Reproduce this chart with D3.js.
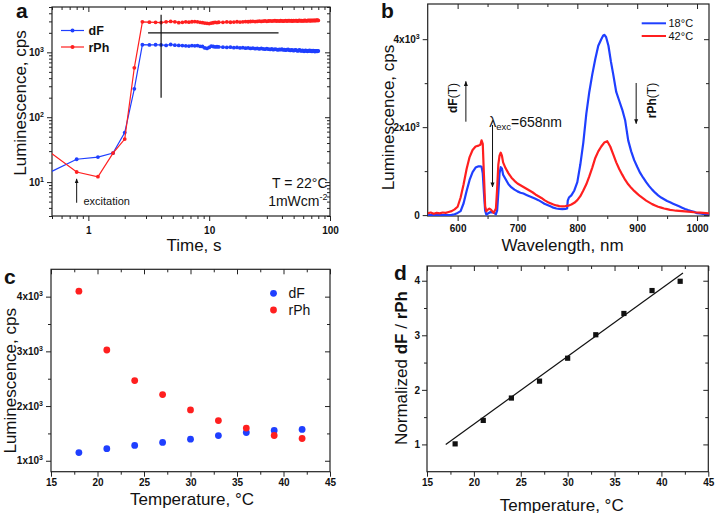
<!DOCTYPE html>
<html><head><meta charset="utf-8">
<script src="https://cdn.jsdelivr.net/npm/d3@7"></script>
<style>body{margin:0;background:#fff} svg{display:block}</style>
</head><body>
<svg id="chart" width="715" height="513"></svg>
<script>
// ---------- Panel a : time traces ----------
const timeA = [0.4,0.8,1.2,1.6,2.0,2.4,2.8,3.2,3.6,4.0,4.4,4.8,5.2,5.6,6.0,6.4,6.8,7.2,7.6,8.0,8.4,8.8,9.2,9.6,10.0,10.4,10.8,11.2,11.6,
 12,13,14,15,16,17,18,19,20,21,22,23,24,25,26,27,28,29,30,31,32,33,34,35,36,37,38,39,40,41,42,43,44,45,46,47,48,49,50,
 51,52,53,54,55,56,57,58,59,60,61,62,63,64,65,66,67,68,69,70,71,72,73,74,75,76,77,78,79,80];
const dFa = [12,22.5,24.3,28,58,274,1310,1300,1310,1300,1280,1320,1290,1280,1270,1260,1250,1270,1260,1270,1240,1230,1170,1150,1190,1250,1230,1210,1220,
 1210,1200,1190,1200,1180,1190,1170,1180,1160,1170,
 1150,1160,1140,1150,1130,1150,1130,1120,1140,1120,
 1110,1130,1100,1120,1110,1090,1110,1100,1120,1090,
 1100,1080,1100,1110,1080,1070,1090,1080,1060,1080,
 1090,1070,1050,1070,1090,1060,1050,1070,1060,1040,
 1060,1070,1050,1040,1060,1050,1070,1050,1040,1060,
 1040,1060,1050,1030,1050,1040,1050,1040,1050];
const rPha = [37,14.3,12.1,28,46,578,2950,2920,2900,2880,2950,3000,2950,2870,2900,2950,2920,2960,2980,2950,2900,2870,2830,2800,2780,2830,2860,2900,2880,
 2910,2900,2940,2910,2930,2960,2930,2950,2980,2960,
 2990,3010,2980,3000,3030,3000,3020,3050,3010,3040,
 3060,3030,3050,3080,3040,3060,3030,3070,3050,3020,
 3060,3080,3040,3070,3090,3050,3070,3040,3080,3060,
 3090,3070,3040,3080,3100,3060,3080,3050,3090,3070,
 3100,3080,3060,3090,3110,3080,3100,3070,3110,3090,
 3120,3080,3100,3120,3090,3110,3130,3100,3110];
const xTicksA = [1,10,100];
const yTicksA = [10,100,1000];
const vMarkA = {t:[4,4], v:[200,3800]};
const hMarkA = {t:[3.12,37.5], v:[2000,2000]};

// ---------- Panel b : spectra ----------
const wl18 = [550,555,560,565,570,575,580,585,590,595,600,605,610,615,620,625,630,635,
 638,640,642,644,646,648,650,655,660,664,666,668,670,672,674,676,
 680,685,690,695,700,705,710,715,720,725,730,735,740,745,750,755,760,765,770,775,780,
 783,784,786,790,795,800,805,810,815,820,825,830,835,840,843,845,848,852,856,
 860,865,870,875,880,885,890,895,900,905,910,915,920,925,930,935,940,945,950,955,960,965,970,975,980,985,990,995,1000,1005,1010,1015,1020];
const int18 = [0,0,0,0,0,0,0,0,5,20,50,90,270,550,800,980,1080,1110,
 1110,1100,950,500,100,10,30,70,60,20,100,500,950,1090,1060,920,
 820,700,630,580,540,510,490,460,430,400,370,340,300,260,230,200,170,150,140,135,140,
 150,330,400,450,560,750,1150,1650,2300,2800,3200,3550,3850,4000,4080,4100,4050,3850,3500,
 3200,2800,2600,2400,2150,1700,1450,1250,1100,960,850,750,660,580,510,450,400,360,320,290,260,230,200,170,140,115,95,75,45,38,30,25,20];
const wl42 = [550,555,560,565,570,575,580,585,590,595,600,605,610,615,620,625,630,635,
 638,640,642,644,646,648,650,653,656,660,664,666,668,670,672,674,676,
 680,685,690,695,700,705,710,715,720,725,730,735,740,745,750,755,760,765,770,775,
 780,785,790,795,800,805,810,815,820,825,830,835,840,845,850,855,860,865,870,875,
 880,885,890,895,900,905,910,915,920,925,930,935,940,945,950,955,960,965,970,975,
 980,985,990,995,1000,1005,1010,1015,1020];
const int42 = [40,60,30,50,40,60,50,70,90,130,190,400,700,1050,1320,1480,1560,1580,
 1600,1700,1620,900,200,90,120,150,120,50,150,600,1150,1350,1420,1350,1200,
 1070,950,850,780,720,680,640,600,560,520,470,430,390,340,300,270,240,220,205,200,
 205,215,240,280,340,430,560,700,880,1080,1300,1450,1560,1650,1680,1560,1380,1200,1050,920,
 800,700,620,550,490,430,380,330,290,250,220,190,170,150,135,120,110,100,95,90,
 85,80,75,65,60,55,50,45,40];
const xTicksB = [600,700,800,900,1000];
const yTicksB = [0,2000,4000];

// ---------- Panels c, d : temperature ----------
const tempC = [18,21,24,27,30,33,36,39,42];
const dFc = [1150,1220,1280,1335,1395,1460,1517,1555,1572];
const rPhc = [4100,3025,2465,2210,1930,1735,1597,1462,1407];
const ratioD = [1.01,1.44,1.85,2.16,2.58,3.01,3.40,3.82,3.99];
const fitT = [17,42.3];
const fitR = [1.0,4.14];
const xTicksT = [15,20,25,30,35,40,45];
const yTicksC = [1000,2000,3000,4000];
const yTicksD = [1,2,3,4];

// =====================================================
const FONT = '"Liberation Sans", Arial, Helvetica, sans-serif';
const BLUE = "#1f3fff", RED = "#ff1f1f";
const svg = d3.select("#chart").attr("font-family", FONT);
const defs = svg.append("defs");
defs.append("marker").attr("id","ah").attr("viewBox","0 0 10 10")
  .attr("refX",9).attr("refY",5).attr("markerWidth",5).attr("markerHeight",6)
  .attr("orient","auto-start-reverse")
  .append("path").attr("d","M0,1 L10,5 L0,9 Z").attr("fill","#111");

function supify(t){
  const s = t.text(); const i = s.indexOf("^");
  if (i < 0) return;
  t.text(s.slice(0,i));
  t.append("tspan").attr("font-size",7).attr("dy",-4).text(s.slice(i+1));
}

function drawAxes(g, x, y, c){
  const [L,R] = x.range(), [B,T] = y.range();
  const put = (axis, tx, ty, vals, size, fmt, pad) => {
    const a = g.append("g").attr("transform",`translate(${tx},${ty})`)
      .call(axis.tickValues(vals).tickSize(size).tickSizeOuter(0).tickPadding(pad==null?3:pad).tickFormat(fmt || (() => "")));
    a.select(".domain").remove();
    a.selectAll(".tick line").attr("stroke","#222").attr("stroke-width",1);
    a.selectAll(".tick text").attr("font-family",FONT).attr("font-weight","bold").attr("font-size",10).attr("fill","#111");
    return a;
  };
  put(d3.axisBottom(x),0,B,c.xMajor,5,c.xFmt,c.xPad);
  put(d3.axisBottom(x),0,B,c.xMinor,3);
  put(d3.axisTop(x),0,T,c.xMajor,-5);
  put(d3.axisTop(x),0,T,c.xMinor,-3);
  const ya = put(d3.axisLeft(y),L,0,c.yMajor,5,c.yFmt,c.yPad);
  put(d3.axisLeft(y),L,0,c.yMinor,3);
  put(d3.axisRight(y),R,0,c.yMajor,-5);
  put(d3.axisRight(y),R,0,c.yMinor,-3);
  ya.selectAll(".tick text").each(function(){ supify(d3.select(this)); });
  g.append("rect").attr("x",L).attr("y",T).attr("width",R-L).attr("height",B-T)
    .attr("fill","none").attr("stroke","#222").attr("stroke-width",1.2);
}
function clip(id, x, y){
  const [L,R] = x.range(), [B,T] = y.range();
  defs.append("clipPath").attr("id",id).append("rect").attr("x",L).attr("y",T).attr("width",R-L).attr("height",B-T);
  return `url(#${id})`;
}
function title(g, x, y, rot, size){
  const t = g.append("text").attr("font-size",size||17).attr("fill","#111").attr("text-anchor","middle");
  if (rot) t.attr("transform",`translate(${x},${y}) rotate(-90)`); else t.attr("x",x).attr("y",y);
  return t;
}
function letter(s, x, y){
  svg.append("text").attr("x",x).attr("y",y).attr("font-size",21).attr("font-weight","bold").attr("fill","#111").text(s);
}
const minorsLog = (lo, hi) => { const out=[]; for (let d=Math.floor(Math.log10(lo)); d<=Math.ceil(Math.log10(hi)); d++) for (let k=2;k<=9;k++){ const v=k*Math.pow(10,d); if (v>=lo && v<=hi) out.push(v);} return out; };
const range = (a,b,s) => d3.range(a,b+1e-9,s);

// ---------------- Panel a ----------------
{
  const g = svg.append("g");
  const x = d3.scaleLog().domain([0.5,100]).range([52,330]);
  const y = d3.scaleLog().domain([3,5000]).range([216,7]);
  drawAxes(g,x,y,{xMajor:xTicksA, xMinor:minorsLog(0.5,100), xFmt:d=>String(d), xPad:6,
    yMajor:yTicksA, yMinor:minorsLog(3,5000), yFmt:d=>"10^"+Math.round(Math.log10(d)), yPad:3});
  const cp = clip("clipA",x,y);
  const pg = g.append("g").attr("clip-path",cp);
  const line = d3.line().x(d=>x(d[0])).y(d=>y(d[1]));
  [[dFa,BLUE],[rPha,RED]].forEach(([vals,col])=>{
    const pts = timeA.map((t,i)=>[t,vals[i]]);
    pg.append("path").datum(pts).attr("d",line).attr("fill","none").attr("stroke",col).attr("stroke-width",1.2);
    pg.selectAll(null).data(pts).enter().append("circle").attr("cx",d=>x(d[0])).attr("cy",d=>y(d[1])).attr("r",1.9).attr("fill",col);
  });
  g.append("line").attr("x1",x(vMarkA.t[0])).attr("x2",x(vMarkA.t[1])).attr("y1",y(vMarkA.v[0])).attr("y2",y(vMarkA.v[1])).attr("stroke","#111").attr("stroke-width",1.2);
  g.append("line").attr("x1",x(hMarkA.t[0])).attr("x2",x(hMarkA.t[1])).attr("y1",y(hMarkA.v[0])).attr("y2",y(hMarkA.v[1])).attr("stroke","#111").attr("stroke-width",1.2);
  g.append("line").attr("x1",x(0.8)).attr("x2",x(0.8)).attr("y1",y(4.8)).attr("y2",y(11.2)).attr("stroke","#111").attr("stroke-width",1).attr("marker-end","url(#ah)");
  g.append("text").attr("x",83.5).attr("y",204.5).attr("font-size",11).attr("fill","#111").text("excitation");
  [["dF",BLUE,30.5],["rPh",RED,47]].forEach(([s,c,yy])=>{
    g.append("line").attr("x1",61).attr("x2",84).attr("y1",yy).attr("y2",yy).attr("stroke",c).attr("stroke-width",1.2);
    g.append("circle").attr("cx",72.5).attr("cy",yy).attr("r",2).attr("fill",c);
    g.append("text").attr("x",88.5).attr("y",yy+4.5).attr("font-size",12.5).attr("font-weight","bold").attr("fill","#111").text(s);
  });
  g.append("text").attr("x",327.5).attr("y",188).attr("text-anchor","end").attr("font-size",14).attr("fill","#111").text("T = 22°C");
  const t2 = g.append("text").attr("x",327.5).attr("y",206).attr("text-anchor","end").attr("font-size",14).attr("fill","#111");
  t2.append("tspan").text("1mWcm");
  t2.append("tspan").attr("font-size",9).attr("dy",-6).text("-2");
  title(g,194,251).text("Time, s");
  title(g,25.5,103,true).text("Luminescence, cps");
  letter("a",16,18);
}

// ---------------- Panel b ----------------
{
  const g = svg.append("g");
  const x = d3.scaleLinear().domain([550,1020]).range([427.7,709]);
  const y = d3.scaleLinear().domain([-20,4800]).range([216,4]);
  drawAxes(g,x,y,{xMajor:xTicksB, xMinor:[650,750,850,950], xFmt:d=>String(d), xPad:4,
    yMajor:yTicksB, yMinor:[1000,3000], yFmt:d=> d===0?"0":(d/1000)+"x10^3", yPad:3});
  const cp = clip("clipB",x,y);
  const pg = g.append("g").attr("clip-path",cp);
  const line = d3.line().x(d=>x(d[0])).y(d=>y(d[1]));
  pg.append("path").datum(wl18.map((w,i)=>[w,int18[i]])).attr("d",line).attr("fill","none").attr("stroke",BLUE).attr("stroke-width",2.2).attr("stroke-linejoin","round");
  pg.append("path").datum(wl42.map((w,i)=>[w,int42[i]])).attr("d",line).attr("fill","none").attr("stroke",RED).attr("stroke-width",2.2).attr("stroke-linejoin","round");
  [["18°C",BLUE,23.3],["42°C",RED,36]].forEach(([s,c,yy])=>{
    g.append("line").attr("x1",641.7).attr("x2",666).attr("y1",yy).attr("y2",yy).attr("stroke",c).attr("stroke-width",2);
    g.append("text").attr("x",668.5).attr("y",yy+4).attr("font-size",11).attr("fill","#111").text(s);
  });
  const arrow = (w,v0,v1)=>g.append("line").attr("x1",x(w)).attr("x2",x(w)).attr("y1",y(v0)).attr("y2",y(v1)).attr("stroke","#111").attr("stroke-width",1).attr("marker-end","url(#ah)");
  arrow(613.8,2124,3040);
  arrow(898.3,3004,2080);
  arrow(658.3,2049,640);
  const dfT = g.append("text").attr("transform",`translate(${x(591.3)},${y(2663)}) rotate(-90)`).attr("text-anchor","middle").attr("dy","0.35em").attr("font-size",12).attr("fill","#111");
  dfT.append("tspan").attr("font-weight","bold").text("dF"); dfT.append("tspan").text("(T)");
  const rpT = g.append("text").attr("transform",`translate(${x(923.8)},${y(2606)}) rotate(-90)`).attr("text-anchor","middle").attr("dy","0.35em").attr("font-size",12).attr("fill","#111");
  rpT.append("tspan").attr("font-weight","bold").text("rPh"); rpT.append("tspan").text("(T)");
  const lt = g.append("text").attr("x",x(652.7)).attr("y",y(2000)).attr("font-size",14).attr("fill","#111");
  lt.append("tspan").text("λ");
  lt.append("tspan").attr("font-size",9.5).attr("dy",3).text("exc");
  lt.append("tspan").attr("dy",-3).text("=658nm");
  title(g,562.5,251).text("Wavelength, nm");
  title(g,394,117.5,true).text("Luminescence, cps");
  letter("b",381,18);
}

// ---------------- Panel c ----------------
{
  const g = svg.append("g");
  const x = d3.scaleLinear().domain([15,45]).range([51,330]);
  const y = d3.scaleLinear().domain([800,4500]).range([471.7,269.3]);
  drawAxes(g,x,y,{xMajor:xTicksT, xMinor:range(17.5,42.5,5), xFmt:d=>String(d), xPad:2,
    yMajor:yTicksC, yMinor:[1500,2500,3500], yFmt:d=>(d/1000)+"x10^3", yPad:3});
  g.selectAll(null).data(tempC.map((t,i)=>[t,dFc[i]])).enter().append("circle")
    .attr("cx",d=>x(d[0])).attr("cy",d=>y(d[1])).attr("r",3.4).attr("fill",BLUE);
  g.selectAll(null).data(tempC.map((t,i)=>[t,rPhc[i]])).enter().append("circle")
    .attr("cx",d=>x(d[0])).attr("cy",d=>y(d[1])).attr("r",3.4).attr("fill",RED);
  [["dF",BLUE,293.3],["rPh",RED,310]].forEach(([s,c,yy])=>{
    g.append("circle").attr("cx",273.5).attr("cy",yy).attr("r",3.4).attr("fill",c);
    g.append("text").attr("x",288.5).attr("y",yy+5).attr("font-size",14).attr("fill","#111").text(s);
  });
  title(g,192,505).text("Temperature, °C");
  title(g,15.5,380.8,true).text("Luminescence, cps");
  letter("c",4,283.5);
}

// ---------------- Panel d ----------------
{
  const g = svg.append("g");
  const x = d3.scaleLinear().domain([15,45]).range([427,708.3]);
  const y = d3.scaleLinear().domain([0.5,4.27]).range([471.7,266]);
  drawAxes(g,x,y,{xMajor:xTicksT, xMinor:range(17.5,42.5,5), xFmt:d=>String(d), xPad:2.5,
    yMajor:yTicksD, yMinor:[1.5,2.5,3.5], yFmt:d=>String(d), yPad:2});
  g.append("line").attr("x1",x(fitT[0])).attr("x2",x(fitT[1])).attr("y1",y(fitR[0])).attr("y2",y(fitR[1])).attr("stroke","#111").attr("stroke-width",1.2);
  g.selectAll(null).data(tempC.map((t,i)=>[t,ratioD[i]])).enter().append("rect")
    .attr("x",d=>x(d[0])-2.6).attr("y",d=>y(d[1])-2.6).attr("width",5.2).attr("height",5.2).attr("fill","#111");
  title(g,561.7,510.5).text("Temperature, °C");
  const yt = title(g,406.5,368,true);
  yt.append("tspan").text("Normalized ");
  yt.append("tspan").attr("font-weight","bold").text("dF");
  yt.append("tspan").text(" / ");
  yt.append("tspan").attr("font-weight","bold").text("rPh");
  letter("d",394,280);
}
</script>
</body></html>
